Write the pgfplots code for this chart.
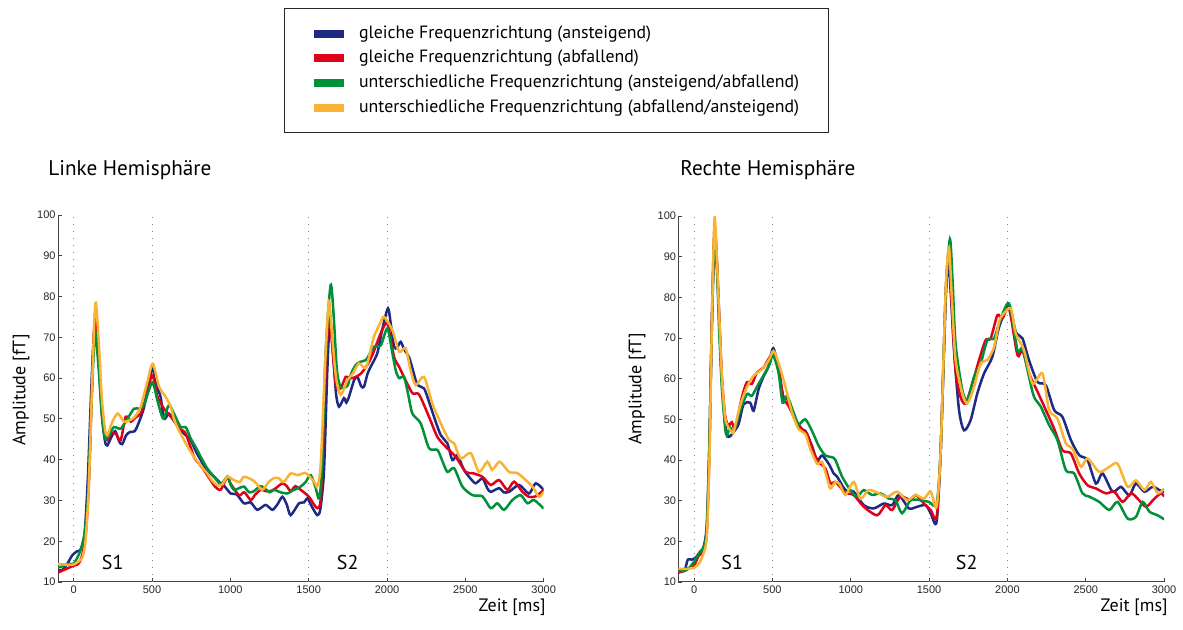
\documentclass[border=0pt]{standalone}
\usepackage{fontspec}
\setmainfont{PT Sans}
\newfontfamily\tickfont{Liberation Sans}
\usepackage{pgfplots}
\pgfplotsset{compat=1.18}
\definecolor{cBlue}{HTML}{1E2A84}
\definecolor{cRed}{HTML}{E1001A}
\definecolor{cGreen}{HTML}{00903A}
\definecolor{cYellow}{HTML}{F9B232}
\definecolor{axisG}{HTML}{444444}

\pgfplotsset{
  meg/.style={
    scale only axis, width=242.85pt, height=183.5pt,
    xmin=-100, xmax=3000, ymin=10, ymax=100,
    axis x line*=bottom, axis y line*=left,
    axis line style={axisG, line width=0.5pt},
    tick align=inside, major tick length=2pt,
    every tick/.append style={axisG, line width=0.4pt},
    xtick={0,500,...,3000}, ytick={10,20,...,100},
    ticklabel style={font=\tickfont\fontsize{5.5}{6}\selectfont, color=black!85},
    yticklabel style={inner sep=1pt},
    xticklabel style={inner sep=1.5pt},
    /pgf/number format/assume math mode=true,
    /pgf/number format/set thousands separator={},
    every axis plot/.append style={line width=1.25pt, smooth, tension=0.45},
  },
  stim/.style={forget plot, sharp plot, gray, line width=0.5pt, dash pattern=on 0.5pt off 3pt},
}
\tikzset{slab/.style={font=\fontsize{10}{12}\selectfont}}

\begin{document}
\begin{tikzpicture}[x=0.5pt,y=0.5pt]
\useasboundingbox (0,0) rectangle (1183,630);

% ---------------- left hemisphere
\begin{axis}[meg, at={(29pt,24pt)}, anchor=south west,
    legend style={at={(0.4653,1.564)}, anchor=north west, draw=black!85,
      line width=0.6pt, fill=white, inner xsep=14.5pt, inner ysep=8.4pt,
      font=\fontsize{8.9}{10}\selectfont, row sep=4.15pt,
      nodes={inner sep=0pt, text height=6.4pt, text depth=1.8pt},
      /tikz/every odd column/.append style={column sep=7.5pt}},
    legend cell align=left,
    legend image code/.code={\fill (0pt,-1.4pt) rectangle (14pt,1.4pt);}]
  \addplot[stim] coordinates {(0,10) (0,100)};
  \addplot[stim] coordinates {(500,10) (500,100)};
  \addplot[stim] coordinates {(1500,10) (1500,100)};
  \addplot[stim] coordinates {(2000,10) (2000,100)};

  \addplot[cBlue] coordinates {(-100,12.8) (-70,13) (-40,14.5) (-10,16.5) (20,17.5) (45,18) (70,22) (90,35)
    (110,55) (125,68) (140,74.5) (160,64) (180,51) (200,44.5) (215,43.5) (240,45.5) (265,47) (290,44.5)
    (310,43.8) (335,46) (360,46.8) (390,47) (420,49.5) (450,53) (480,59) (505,62.5) (530,58) (555,55.4)
    (576,50) (608,51.3) (640,49.5) (683,47.2) (715,46) (747,44.8) (780,42) (811,39.9) (850,37.5) (896,35.8)
    (930,34.5) (958,33.7) (1002,31.7) (1040,31.5) (1087,29.3) (1130,29.5) (1172,27.7) (1225,28.9) (1268,27.7)
    (1300,29) (1332,30.9) (1360,29) (1385,26.4) (1438,29.3) (1470,29.5) (1492,30.5) (1520,28.5) (1555,26.4)
    (1575,28) (1598,37.5) (1619,62) (1636,74.2) (1655,66) (1675,56) (1694,53) (1725,55.1) (1740,54) (1757,55.4)
    (1790,59.5) (1811,60.3) (1835,58) (1853,57.9) (1875,61) (1896,62.8) (1938,66.1) (1970,72) (2006,77.1)
    (2025,73) (2045,67.7) (2065,67.5) (2087,68.9) (2110,67) (2140,65.2) (2165,62) (2194,58.3) (2236,57.5)
    (2270,54) (2300,50.5) (2343,46) (2385,44) (2417,39.9) (2449,41.1) (2491,37.5) (2530,35.5) (2566,34.2)
    (2609,35.4) (2640,33) (2662,32.1) (2715,33) (2745,32) (2779,32.1) (2843,33.8) (2906,31.7) (2949,34.2) (3000,32.6)};
  \addlegendentry{gleiche Frequenzrichtung (ansteigend)}
  \addplot[cRed] coordinates {(-100,12.3) (-60,13) (-30,13.5) (0,14) (20,14.2) (40,15) (60,17.5) (80,23)
    (100,37) (120,62) (138,75.8) (160,66) (180,53) (200,46) (215,44.8) (240,46.5) (268,46.4) (300,44.8)
    (332,50.5) (364,49.3) (400,50.5) (428,51.3) (460,55) (485,59) (505,60.7) (534,55.6) (576,52.5) (608,51)
    (640,49.7) (680,47.5) (715,46.4) (768,40.7) (800,39) (832,37.4) (875,34.9) (900,33.5) (938,32.6) (981,35.8)
    (1002,34.1) (1055,31.3) (1090,32) (1130,30.1) (1160,31.5) (1194,32.6) (1225,32.3) (1257,32.3) (1290,33)
    (1332,34.2) (1360,33.5) (1385,32.3) (1415,33.5) (1449,32.6) (1502,30.9) (1555,28.1) (1580,32) (1608,62)
    (1630,75.9) (1650,68) (1675,58) (1704,57.5) (1736,60.3) (1760,60) (1789,60.1) (1830,61) (1874,63.2)
    (1910,66) (1960,71) (2002,73.4) (2045,65.2) (2077,62.8) (2108,60.3) (2162,56.3) (2204,56) (2268,50.5)
    (2321,45.6) (2374,43.2) (2438,40.7) (2502,37) (2545,36.7) (2609,35.8) (2662,33.8) (2715,35) (2768,32.6)
    (2811,34.6) (2864,32.1) (2906,30.9) (2949,31) (3000,32.6)};
  \addlegendentry{gleiche Frequenzrichtung (abfallend)}
  \addplot[cGreen] coordinates {(-100,13.5) (-60,14) (-30,14.5) (0,14.5) (30,16.5) (50,18.5) (70,22) (90,30)
    (110,50) (130,68) (140,71) (160,62) (180,51) (200,45.2) (225,46) (257,48) (300,47.6) (343,50) (385,52.5)
    (420,52.5) (450,53.5) (480,57) (505,59) (534,54.6) (560,51) (576,50.1) (608,53.4) (640,51.3) (683,48)
    (715,48) (747,45.2) (780,43) (811,40.7) (850,38) (896,35.8) (940,34) (981,35.8) (1000,34) (1023,32.6)
    (1055,33) (1087,33.4) (1120,32) (1151,32.3) (1190,33.5) (1215,33.1) (1250,32) (1279,32.6) (1320,32)
    (1364,31.7) (1400,32.5) (1438,33.1) (1480,34.5) (1513,36.2) (1545,33) (1566,30.5) (1585,38) (1608,66.1)
    (1640,82.8) (1660,75) (1680,62) (1704,57.9) (1747,58.1) (1770,61) (1800,63.2) (1830,64) (1864,64.4)
    (1890,66) (1917,67.7) (1960,68) (2002,72.2) (2030,67) (2055,62) (2077,60) (2108,60.3) (2135,56)
    (2162,51.3) (2215,48.9) (2268,42.8) (2321,42.4) (2350,40) (2385,37) (2428,37.9) (2481,33.4) (2545,31.3)
    (2609,31) (2662,28.1) (2704,29.3) (2747,27.7) (2800,30.1) (2853,31.3) (2896,29.3) (2938,30.1) (3000,28)};
  \addlegendentry{unterschiedliche Frequenzrichtung (ansteigend/abfallend)}
  \addplot[cYellow] coordinates {(-100,14.4) (-60,14.3) (-30,14.2) (0,14.3) (30,15) (55,16) (75,20) (95,32)
    (115,55) (132,74) (142,78.5) (160,69) (180,55) (200,47.5) (215,46) (247,49.3) (279,51.3) (300,50.5)
    (321,49.3) (345,49.5) (375,50) (400,51) (428,53) (470,59) (505,63.5) (545,57.9) (587,55.4) (619,53)
    (640,50) (661,48) (693,45.6) (730,43) (768,40.7) (810,38.5) (853,36.6) (880,35) (917,33.7) (950,34)
    (981,35.8) (1023,35) (1060,34.5) (1087,35.8) (1141,35) (1170,34) (1204,32.6) (1247,34.6) (1280,35.5)
    (1311,35.4) (1340,34.5) (1385,36.6) (1430,36.2) (1481,36.7) (1534,34.6) (1555,33.5) (1577,39) (1608,66.1)
    (1630,78.7) (1650,70) (1675,60) (1704,55.9) (1747,59.5) (1780,61) (1821,63.6) (1864,62.4) (1890,66)
    (1917,70.2) (1960,73.8) (1981,75) (2034,71.8) (2077,66.5) (2119,67.3) (2150,62) (2183,58.3) (2236,60.3)
    (2289,53.8) (2343,48.9) (2396,44.8) (2428,44) (2470,40.3) (2534,41.6) (2587,37) (2640,39.5) (2672,37.5)
    (2719,39.5) (2779,37) (2832,36.7) (2885,35) (2928,33.4) (2970,30.9) (3000,32.1)};
  \addlegendentry{unterschiedliche Frequenzrichtung (abfallend/ansteigend)}

  \node[slab] at (axis cs:249,14.7) {S1};
  \node[slab] at (axis cs:1749,14.9) {S2};
\end{axis}

% ---------------- right hemisphere
\begin{axis}[meg, at={(339.2pt,24pt)}, anchor=south west, height=183pt]
  \addplot[stim] coordinates {(0,10) (0,100)};
  \addplot[stim] coordinates {(500,10) (500,100)};
  \addplot[stim] coordinates {(1500,10) (1500,100)};
  \addplot[stim] coordinates {(2000,10) (2000,100)};

  \addplot[cBlue] coordinates {(-100,12.5) (-60,13) (-40,15.5) (-15,15.5) (10,16) (40,17.5) (60,18.5) (81,24)
    (98,44) (113,72) (130,93.5) (145,88) (160,76) (177,60) (198,49) (219,45.7) (252,46.9) (284,48.8) (316,53.7)
    (358,54.1) (380,52.1) (411,57.3) (443,60.5) (475,63) (505,67.5) (539,62.6) (571,54.9) (593,55.4) (635,50.8)
    (678,47.6) (710,47.2) (752,43.5) (785,39.9) (817,41.1) (859,39.1) (891,36.7) (913,35.9) (966,32.6)
    (1019,32.2) (1083,28.9) (1147,28.1) (1211,29.3) (1264,28.9) (1307,31.4) (1371,28.1) (1424,28.5) (1478,28.9)
    (1510,26.9) (1548,24.8) (1574,42.4) (1606,79.3) (1622,89) (1640,80) (1659,67) (1691,52.3) (1723,47.3)
    (1765,49.8) (1808,56.4) (1851,61.3) (1904,65.4) (1947,72.7) (2010,78.1) (2053,71.5) (2096,69.9) (2138,64.5)
    (2192,59.2) (2245,58.4) (2298,52.3) (2351,50.6) (2405,44.9) (2458,41.2) (2511,40) (2565,34.2) (2607,36.7)
    (2671,32.2) (2725,33.4) (2778,31.3) (2820,34.2) (2874,32.2) (2927,33.4) (2970,32.6) (3000,32.2)};
  \addplot[cRed] coordinates {(-100,12.3) (-60,12.8) (-30,13.5) (0,14) (30,16.5) (60,17.5) (81,22) (98,43)
    (113,74) (130,97) (145,90) (160,75) (177,60.5) (198,51) (219,48.5) (241,49.3) (262,47.8) (305,55.4)
    (337,59.1) (369,58.7) (401,61.5) (443,62.7) (475,64.8) (507,66.4) (539,62.2) (571,55.4) (603,53.3) (646,50)
    (689,47.6) (721,46.4) (763,41.9) (795,39.5) (838,37.9) (870,34.3) (902,34.6) (940,33) (966,31.8) (1019,31.4)
    (1083,28.5) (1168,26.4) (1222,28.9) (1264,27.7) (1318,31) (1382,30.1) (1414,31.4) (1467,29.3) (1510,27.7)
    (1548,26) (1574,42.4) (1606,81) (1627,91) (1645,78) (1669,62.1) (1701,55.5) (1733,53.9) (1776,58.8)
    (1819,64.6) (1861,69.5) (1893,69.9) (1936,75.6) (1968,74.8) (2010,77.3) (2064,65.8) (2096,67) (2138,61.3)
    (2192,56.8) (2245,52.3) (2298,47.7) (2351,42.4) (2405,41.6) (2458,36.7) (2511,33.8) (2565,33) (2629,31.8)
    (2682,32.2) (2735,29.7) (2788,31.8) (2831,30.5) (2884,28.5) (2938,30.5) (2980,31.8) (3000,31)};
  \addplot[cGreen] coordinates {(-100,12.8) (-60,12.7) (-30,13.5) (0,15) (30,17) (60,18.5) (81,23) (98,44)
    (113,72) (130,95.5) (145,88) (160,72) (177,58) (198,48) (209,46) (230,48) (252,46.9) (294,52.1) (337,56.2)
    (369,55.8) (411,58.7) (454,61.5) (486,63.9) (503,66) (539,61.5) (565,54.1) (593,55.8) (635,51.7) (667,48.8)
    (710,50) (752,47.2) (795,43.5) (838,41.1) (880,40.7) (902,40) (945,35.9) (998,32.6) (1040,31) (1083,32.6)
    (1136,31.4) (1190,31.8) (1243,30.5) (1286,30.1) (1328,26.9) (1382,30.1) (1446,30.1) (1499,29.7) (1548,29.3)
    (1574,42.4) (1606,81) (1633,94.3) (1650,84) (1669,68.6) (1712,57.2) (1744,54.7) (1787,60.5) (1829,63.7)
    (1872,69.5) (1915,69.9) (1947,73.6) (2010,78.5) (2064,67) (2096,67.4) (2138,60.4) (2170,55.5) (2213,53.1)
    (2266,48.6) (2319,44.9) (2373,37.5) (2426,36.7) (2479,31.8) (2522,31) (2586,29.7) (2650,27.7) (2703,29.7)
    (2767,25.6) (2820,26) (2863,29.7) (2906,27.3) (2959,26.4) (3000,25.4)};
  \addplot[cYellow] coordinates {(-100,13.3) (-60,13.2) (-30,13.3) (0,13.5) (30,14.5) (55,16.5) (81,21) (98,40)
    (113,72) (130,99.3) (145,90) (160,76) (177,61) (198,50.5) (219,48) (240,47) (252,46.9) (294,53.4) (337,57.9)
    (380,60.7) (433,62.3) (475,64.4) (507,66.8) (539,63.9) (582,58.2) (625,51.7) (667,47.6) (710,46.4) (742,42.7)
    (785,39.1) (817,39.5) (849,35.5) (870,33) (902,34.6) (930,34) (966,31.4) (1019,34.6) (1062,30.5) (1115,32.6)
    (1179,31.8) (1232,30.9) (1296,32.2) (1360,30.1) (1414,31.4) (1467,30.5) (1510,32.2) (1548,28.5) (1574,42.4)
    (1606,81.8) (1627,92.2) (1645,80) (1669,64.6) (1712,56.4) (1744,53.9) (1787,58) (1829,63.7) (1872,64.6)
    (1915,67.8) (1947,74) (1968,75.6) (2021,77.3) (2053,71.1) (2106,67) (2160,58.8) (2223,61.3) (2266,52.3)
    (2319,50.2) (2373,44.1) (2415,42.8) (2469,38.3) (2511,40.4) (2586,37.1) (2650,38.3) (2703,39.1) (2767,33.4)
    (2820,35) (2874,32.6) (2916,34.6) (2959,31.8) (3000,33)};

  \node[slab] at (axis cs:243,14.9) {S1};
  \node[slab] at (axis cs:1740,14.9) {S2};
\end{axis}

% titles and axis labels
\node[anchor=west, inner sep=0pt, font=\fontsize{10.6}{12}\selectfont] at (48,460) {Linke Hemisphäre};
\node[anchor=west, inner sep=0pt, font=\fontsize{10.6}{12}\selectfont] at (680,460) {Rechte Hemisphäre};
\node[rotate=90, font=\fontsize{9}{11}\selectfont] at (21,240) {Amplitude [fT]};
\node[rotate=90, font=\fontsize{9}{11}\selectfont] at (637,241) {Amplitude [fT]};
\node[anchor=east, inner sep=0pt, font=\fontsize{9}{11}\selectfont] at (546,23) {Zeit [ms]};
\node[anchor=east, inner sep=0pt, font=\fontsize{9}{11}\selectfont] at (1168,23) {Zeit [ms]};
\end{tikzpicture}
\end{document}
